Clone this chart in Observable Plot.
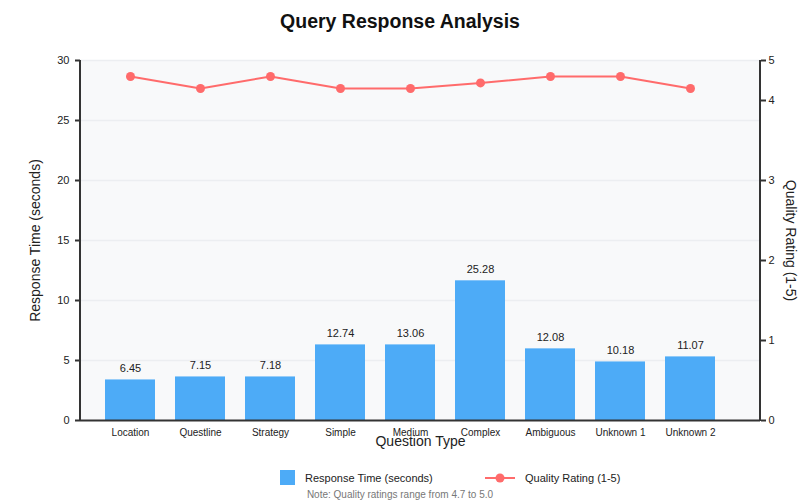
<!DOCTYPE html>
<html>
<head>
<meta charset="utf-8">
<script src="https://cdn.jsdelivr.net/npm/d3@7"></script>
<script src="https://cdn.jsdelivr.net/npm/@observablehq/plot@0.6"></script>
<style>
  body { margin: 0; background: #fff; font-family: "Liberation Sans", Arial, sans-serif; }
  #wrap { position: relative; width: 800px; height: 500px; overflow: hidden; }
  #chart { position: absolute; left: 0; top: 0; }
  #title { position: absolute; left: 0; top: 10px; width: 800px; text-align: center; font-size: 19.5px; font-weight: bold; color: #111; }
  .leg { position: absolute; font-size: 11px; color: #222; line-height: 14px; }
  #note { position: absolute; left: 0; top: 489px; width: 800px; text-align: center; font-size: 10px; color: #777; }
</style>
</head>
<body>
<div id="wrap">
  <div id="chart"></div>
  <div id="title">Query Response Analysis</div>
  <div id="legend"></div>
  <div id="note">Note: Quality ratings range from 4.7 to 5.0</div>
</div>
<script>
// ---- data ----
const categories = ["Location", "Questline", "Strategy", "Simple", "Medium", "Complex", "Ambiguous", "Unknown 1", "Unknown 2"];
const responseLabels = [6.45, 7.15, 7.18, 12.74, 13.06, 25.28, 12.08, 10.18, 11.07];
// bar heights as drawn against the left axis (seconds)
const barHeights = [3.38, 3.63, 3.63, 6.30, 6.30, 11.64, 5.97, 4.88, 5.30];
// quality points as drawn against the right axis
const qualityRatings = [4.30, 4.15, 4.30, 4.15, 4.15, 4.22, 4.30, 4.30, 4.15];
const leftTicks = [0, 5, 10, 15, 20, 25, 30];
const rightTickValues = [0, 1, 2, 3, 4, 4.5];
const rightTickLabels = ["0", "1", "2", "3", "4", "5"];
const seriesNames = ["Response Time (seconds)", "Quality Rating (1-5)"];

const barColor = "#4dabf7";
const lineColor = "#ff6b6b";
const k = 30 / 4.5; // right axis -> left axis units

const data = categories.map((c, i) => ({ cat: c, h: barHeights[i], t: responseLabels[i], q: qualityRatings[i] }));
const rightTicks = rightTickValues.map(v => v * k);
const rightFmt = new Map(rightTicks.map((v, i) => [v, rightTickLabels[i]]));

const plot = Plot.plot({
  width: 800, height: 500,
  marginTop: 60, marginBottom: 80, marginLeft: 80, marginRight: 40,
  style: { fontFamily: "Liberation Sans, Arial, sans-serif", fontSize: "11px", color: "#222", background: "transparent", overflow: "visible" },
  x: { domain: categories, range: [95, 725], paddingInner: 2 / 7, paddingOuter: 1 / 7, label: null },
  y: { domain: [0, 30], label: null },
  marks: [
    Plot.frame({ fill: "#f8f9fa", stroke: null }),
    Plot.gridY(leftTicks.slice(1), { stroke: "#eceef1", strokeOpacity: 1, strokeWidth: 1.5 }),
    Plot.barY(data, { x: "cat", y: "h", fill: barColor }),
    Plot.text(data, { x: "cat", y: "h", text: d => d.t.toFixed(2), dy: -11, fontSize: 11, fill: "#222" }),
    Plot.line(data, { x: "cat", y: d => d.q * k, stroke: lineColor, strokeWidth: 2 }),
    Plot.dot(data, { x: "cat", y: d => d.q * k, r: 4.5, fill: lineColor, stroke: null }),
    Plot.ruleY([0], { stroke: "#333", strokeWidth: 2 }),
    Plot.axisY({ anchor: "left", ticks: leftTicks, tickSize: 5, tickPadding: 6, stroke: "#333", strokeWidth: 2, label: null, fontSize: 11, fill: "#222" }),
    Plot.axisY({ anchor: "right", ticks: rightTicks, tickFormat: d => rightFmt.get(d), tickSize: 5, tickPadding: 3, stroke: "#333", strokeWidth: 2, label: null, fontSize: 11, fill: "#222" }),
    Plot.axisX({ anchor: "bottom", tickSize: 0, tickPadding: 8, label: null, fontSize: 10, fill: "#222" }),
    Plot.text(["Response Time (seconds)"], { frameAnchor: "left", textAnchor: "middle", rotate: -90, dx: -45, fontSize: 14, fill: "#222" }),
    Plot.text(["Quality Rating (1-5)"], { frameAnchor: "right", textAnchor: "middle", rotate: 90, dx: 30, fontSize: 14, fill: "#222" }),
    Plot.text(["Question Type"], { frameAnchor: "bottom", dy: 25, fontSize: 14, fill: "#222" })
  ]
});
document.getElementById("chart").appendChild(plot);

// vertical axis domain lines at the frame edges
const svg = d3.select(plot);
[80, 760].forEach(xp => {
  svg.append("line").attr("x1", xp).attr("x2", xp).attr("y1", 60).attr("y2", 421)
    .attr("stroke", "#333").attr("stroke-width", 2);
});

// legend
const legend = document.getElementById("legend");
legend.innerHTML = `
  <div style="position:absolute;left:280px;top:470px;width:15px;height:15px;background:${barColor}"></div>
  <div class="leg" style="left:305px;top:471px">${seriesNames[0]}</div>
  <svg style="position:absolute;left:484px;top:470px" width="32" height="16">
    <line x1="1" x2="31" y1="8" y2="8" stroke="${lineColor}" stroke-width="2"/>
    <circle cx="16" cy="8" r="4.5" fill="${lineColor}"/>
  </svg>
  <div class="leg" style="left:525px;top:471px">${seriesNames[1]}</div>`;
</script>
</body>
</html>
